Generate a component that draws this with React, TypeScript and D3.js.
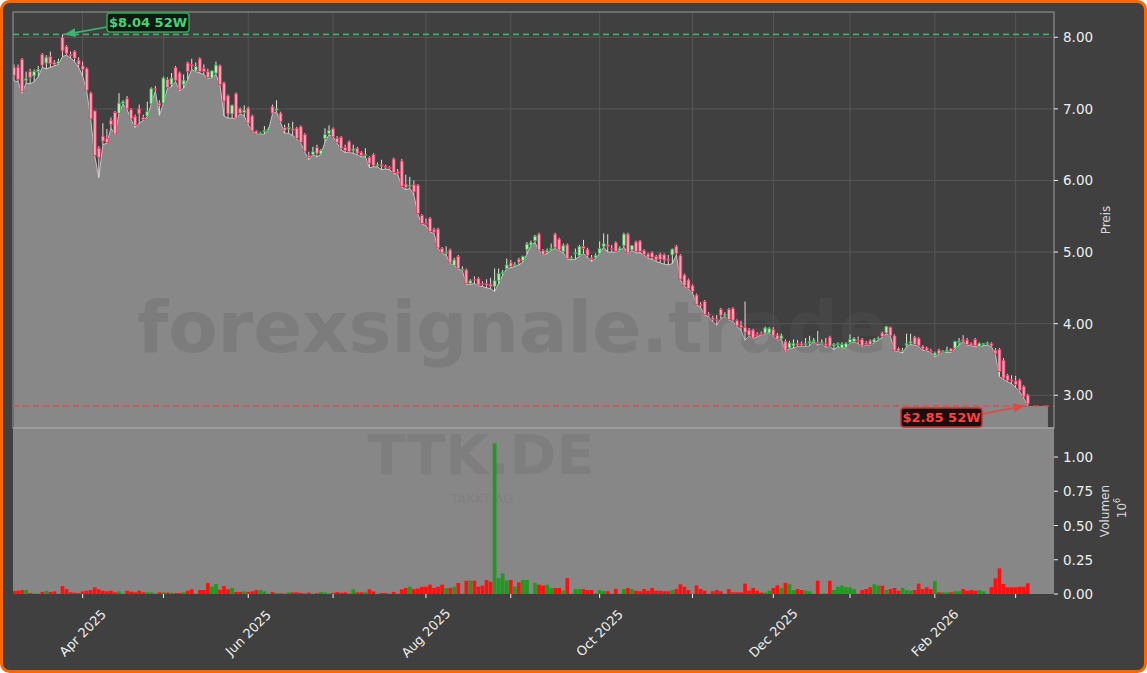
import React from 'react';
import * as d3 from 'd3';

// ---------- DATA ----------
const ticker = 'TTK.DE';
const companyName = 'TAKKT AG';
const watermark = 'forexsignale.trade';
const startDate = '2025-03-07';
const holidays = ['2025-04-18', '2025-04-21', '2025-05-01', '2025-12-24', '2025-12-25', '2025-12-26', '2025-12-31', '2026-01-01'];
const sessionCount = 252;

const open = [
  7.58, 7.58, 7.69, 7.40, 7.52, 7.46, 7.52, 7.76, 7.64, 7.73,
  7.65, 7.63, 8.00, 7.87, 7.76, 7.80, 7.68, 7.60, 7.56, 7.22,
  6.97, 6.45, 6.62, 6.59, 6.84, 6.95, 6.94, 7.08, 7.14, 6.99,
  6.89, 7.00, 6.88, 6.90, 7.07, 7.28, 7.08, 7.08, 7.41, 7.34,
  7.58, 7.50, 7.34, 7.64, 7.62, 7.53, 7.70, 7.56, 7.52, 7.43,
  7.50, 7.60, 7.36, 7.18, 6.93, 7.21, 7.00, 6.95, 7.01, 6.90,
  6.69, 6.66, 6.68, 6.70, 7.03, 6.98, 6.94, 6.74, 6.72, 6.72,
  6.73, 6.75, 6.64, 6.35, 6.36, 6.46, 6.37, 6.59, 6.66, 6.72,
  6.59, 6.60, 6.46, 6.54, 6.42, 6.45, 6.39, 6.35, 6.32, 6.36,
  6.21, 6.22, 6.20, 6.18, 6.30, 6.12, 6.27, 5.95, 5.92, 5.94,
  5.93, 5.51, 5.40, 5.47, 5.31, 5.32, 5.05, 5.00, 5.03, 4.81,
  4.94, 4.76, 4.75, 4.56, 4.62, 4.63, 4.56, 4.56, 4.55, 4.52,
  4.60, 4.70, 4.77, 4.85, 4.82, 4.90, 4.88, 5.04, 5.10, 5.16,
  5.25, 5.02, 5.00, 5.03, 5.25, 5.18, 5.01, 5.10, 4.91, 4.98,
  4.95, 5.08, 5.04, 4.92, 4.92, 4.98, 5.08, 5.10, 5.05, 5.13,
  5.02, 5.09, 5.25, 5.03, 5.14, 5.15, 5.02, 4.97, 4.99, 4.94,
  4.97, 4.96, 4.90, 4.96, 5.08, 4.95, 4.68, 4.61, 4.53, 4.40,
  4.27, 4.31, 4.13, 4.08, 4.06, 4.20, 4.12, 4.20, 4.21, 4.04,
  3.98, 3.95, 3.91, 3.91, 3.85, 3.86, 3.87, 3.87, 3.92, 3.84,
  3.79, 3.75, 3.66, 3.69, 3.72, 3.72, 3.71, 3.73, 3.75, 3.74,
  3.73, 3.72, 3.81, 3.69, 3.71, 3.66, 3.67, 3.74, 3.75, 3.77,
  3.78, 3.73, 3.76, 3.74, 3.79, 3.87, 3.87, 3.95, 3.83, 3.65,
  3.62, 3.70, 3.73, 3.81, 3.79, 3.68, 3.66, 3.62, 3.56, 3.63,
  3.60, 3.61, 3.65, 3.66, 3.74, 3.78, 3.77, 3.72, 3.78, 3.68,
  3.71, 3.72, 3.72, 3.63, 3.64, 3.49, 3.28, 3.22, 3.20, 3.21,
  3.12, 3.00,
];

const high = [
  7.62, 7.62, 7.71, 7.52, 7.56, 7.55, 7.60, 7.78, 7.75, 7.80,
  7.68, 7.70, 8.04, 7.89, 7.80, 7.82, 7.72, 7.66, 7.58, 7.24,
  6.98, 6.48, 6.80, 6.72, 6.88, 6.97, 7.22, 7.12, 7.18, 7.01,
  6.92, 7.06, 6.92, 7.10, 7.30, 7.32, 7.12, 7.45, 7.44, 7.50,
  7.60, 7.52, 7.48, 7.66, 7.70, 7.65, 7.72, 7.62, 7.56, 7.54,
  7.66, 7.62, 7.38, 7.20, 7.06, 7.23, 7.02, 7.05, 7.03, 6.92,
  6.70, 6.68, 6.76, 6.74, 7.06, 7.12, 6.96, 6.78, 6.80, 6.82,
  6.75, 6.77, 6.66, 6.40, 6.47, 6.50, 6.44, 6.73, 6.77, 6.74,
  6.62, 6.62, 6.50, 6.56, 6.50, 6.47, 6.41, 6.45, 6.34, 6.38,
  6.25, 6.29, 6.22, 6.20, 6.32, 6.16, 6.30, 6.08, 6.05, 6.00,
  5.95, 5.53, 5.47, 5.49, 5.34, 5.34, 5.07, 5.08, 5.05, 4.92,
  4.96, 4.80, 4.77, 4.62, 4.66, 4.65, 4.59, 4.62, 4.64, 4.77,
  4.77, 4.75, 4.91, 4.89, 4.86, 4.92, 4.95, 5.14, 5.16, 5.24,
  5.27, 5.04, 5.05, 5.12, 5.27, 5.20, 5.12, 5.12, 4.95, 5.05,
  5.10, 5.17, 5.06, 4.96, 4.98, 5.15, 5.26, 5.25, 5.10, 5.15,
  5.08, 5.27, 5.27, 5.10, 5.16, 5.17, 5.04, 4.99, 5.01, 4.96,
  4.99, 4.98, 4.96, 5.05, 5.10, 4.97, 4.70, 4.63, 4.55, 4.42,
  4.30, 4.33, 4.16, 4.11, 4.12, 4.22, 4.16, 4.22, 4.23, 4.06,
  4.04, 4.31, 3.94, 3.93, 3.88, 3.89, 3.96, 3.95, 3.95, 3.87,
  3.86, 3.78, 3.76, 3.78, 3.77, 3.75, 3.80, 3.83, 3.80, 3.90,
  3.78, 3.80, 3.83, 3.73, 3.74, 3.74, 3.74, 3.85, 3.81, 3.82,
  3.80, 3.76, 3.78, 3.80, 3.82, 3.89, 3.97, 3.96, 3.85, 3.67,
  3.66, 3.86, 3.86, 3.83, 3.81, 3.70, 3.68, 3.65, 3.61, 3.65,
  3.63, 3.68, 3.66, 3.76, 3.80, 3.84, 3.80, 3.74, 3.80, 3.74,
  3.73, 3.75, 3.74, 3.66, 3.66, 3.52, 3.30, 3.28, 3.27, 3.23,
  3.14, 3.02,
];

const low = [
  7.39, 7.38, 7.22, 7.36, 7.35, 7.38, 7.45, 7.58, 7.56, 7.58,
  7.60, 7.62, 7.73, 7.75, 7.71, 7.66, 7.58, 7.46, 7.25, 6.85,
  6.34, 6.04, 6.50, 6.52, 6.73, 6.64, 6.94, 7.07, 6.99, 6.85,
  6.74, 6.80, 6.84, 6.89, 7.07, 7.25, 6.91, 7.08, 7.29, 7.31,
  7.38, 7.25, 7.29, 7.41, 7.55, 7.52, 7.50, 7.48, 7.43, 7.43,
  7.48, 7.33, 6.90, 6.87, 6.87, 6.86, 6.93, 6.90, 6.78, 6.69,
  6.65, 6.64, 6.65, 6.70, 6.93, 6.96, 6.81, 6.66, 6.66, 6.63,
  6.58, 6.52, 6.40, 6.29, 6.36, 6.33, 6.36, 6.54, 6.64, 6.61,
  6.52, 6.43, 6.39, 6.39, 6.38, 6.36, 6.33, 6.33, 6.18, 6.19,
  6.19, 6.15, 6.16, 6.15, 6.10, 6.09, 5.91, 5.87, 5.89, 5.80,
  5.53, 5.39, 5.37, 5.28, 5.26, 5.05, 4.98, 4.96, 4.84, 4.81,
  4.76, 4.74, 4.55, 4.55, 4.56, 4.53, 4.52, 4.50, 4.49, 4.45,
  4.56, 4.68, 4.77, 4.78, 4.80, 4.82, 4.86, 4.97, 5.10, 5.13,
  5.02, 4.96, 4.98, 5.02, 5.05, 5.02, 4.99, 4.90, 4.89, 4.90,
  4.94, 4.98, 4.93, 4.87, 4.91, 4.98, 5.07, 5.00, 5.00, 5.00,
  5.02, 5.07, 4.98, 5.02, 4.99, 4.99, 4.96, 4.91, 4.90, 4.87,
  4.85, 4.83, 4.82, 4.84, 4.96, 4.61, 4.52, 4.48, 4.43, 4.26,
  4.23, 4.12, 4.10, 4.03, 3.98, 4.07, 4.10, 4.05, 4.03, 3.96,
  3.91, 3.77, 3.83, 3.79, 3.82, 3.84, 3.86, 3.86, 3.82, 3.77,
  3.78, 3.61, 3.65, 3.66, 3.68, 3.68, 3.68, 3.69, 3.75, 3.70,
  3.72, 3.67, 3.68, 3.64, 3.68, 3.66, 3.66, 3.73, 3.74, 3.72,
  3.68, 3.70, 3.70, 3.73, 3.77, 3.81, 3.86, 3.82, 3.62, 3.61,
  3.59, 3.68, 3.71, 3.70, 3.68, 3.63, 3.62, 3.60, 3.54, 3.57,
  3.60, 3.60, 3.60, 3.65, 3.70, 3.75, 3.70, 3.69, 3.68, 3.68,
  3.69, 3.70, 3.68, 3.57, 3.26, 3.22, 3.19, 3.16, 3.11, 3.05,
  2.96, 2.85,
];

const close = [
  7.47, 7.41, 7.24, 7.42, 7.44, 7.52, 7.55, 7.61, 7.72, 7.63,
  7.62, 7.66, 7.81, 7.77, 7.74, 7.71, 7.62, 7.55, 7.26, 6.86,
  6.35, 6.32, 6.55, 6.53, 6.78, 6.65, 7.08, 7.10, 7.00, 6.86,
  6.77, 6.93, 6.85, 6.96, 7.28, 7.27, 7.05, 7.43, 7.30, 7.43,
  7.40, 7.27, 7.40, 7.52, 7.60, 7.59, 7.52, 7.52, 7.44, 7.53,
  7.61, 7.34, 7.11, 6.93, 7.05, 6.87, 6.94, 6.98, 6.80, 6.69,
  6.65, 6.66, 6.70, 6.72, 6.94, 7.00, 6.82, 6.70, 6.74, 6.70,
  6.59, 6.53, 6.41, 6.32, 6.40, 6.38, 6.42, 6.64, 6.70, 6.61,
  6.53, 6.45, 6.42, 6.40, 6.44, 6.38, 6.35, 6.36, 6.24, 6.21,
  6.22, 6.20, 6.18, 6.17, 6.11, 6.10, 5.92, 5.90, 5.93, 5.84,
  5.54, 5.40, 5.39, 5.29, 5.28, 5.06, 4.99, 5.00, 4.85, 4.89,
  4.77, 4.76, 4.56, 4.60, 4.61, 4.54, 4.55, 4.54, 4.52, 4.60,
  4.70, 4.72, 4.82, 4.80, 4.83, 4.86, 4.94, 5.11, 5.13, 5.22,
  5.03, 4.97, 5.02, 5.05, 5.06, 5.03, 5.09, 4.91, 4.92, 4.99,
  5.08, 5.05, 4.95, 4.90, 4.95, 5.05, 5.12, 5.08, 5.04, 5.01,
  5.05, 5.25, 4.99, 5.09, 5.01, 5.01, 4.97, 4.93, 4.93, 4.89,
  4.90, 4.89, 4.88, 5.04, 4.98, 4.62, 4.53, 4.49, 4.45, 4.27,
  4.25, 4.13, 4.12, 4.06, 4.04, 4.12, 4.13, 4.06, 4.05, 3.97,
  3.95, 3.88, 3.84, 3.80, 3.83, 3.85, 3.94, 3.93, 3.83, 3.78,
  3.83, 3.62, 3.73, 3.72, 3.70, 3.70, 3.72, 3.75, 3.77, 3.73,
  3.74, 3.70, 3.69, 3.71, 3.72, 3.71, 3.72, 3.78, 3.79, 3.76,
  3.69, 3.71, 3.71, 3.78, 3.80, 3.82, 3.96, 3.83, 3.63, 3.62,
  3.63, 3.72, 3.75, 3.71, 3.69, 3.65, 3.63, 3.61, 3.59, 3.58,
  3.61, 3.63, 3.61, 3.75, 3.75, 3.76, 3.71, 3.70, 3.69, 3.72,
  3.72, 3.73, 3.69, 3.58, 3.33, 3.24, 3.21, 3.20, 3.15, 3.07,
  2.98, 2.88,
];

const volume = [
  22000, 24000, 29000, 29000, 7000, 5000, 2000, 15000, 22000, 15000,
  19000, 3000, 58000, 36000, 12000, 10000, 7000, 19000, 24000, 29000,
  49000, 34000, 24000, 19000, 24000, 12000, 19000, 2000, 24000, 17000,
  12000, 24000, 12000, 12000, 12000, 2000, 12000, 12000, 10000, 10000,
  7000, 7000, 12000, 24000, 34000, 2000, 29000, 29000, 80000, 53000,
  73000, 31000, 58000, 34000, 44000, 15000, 15000, 19000, 15000, 19000,
  29000, 29000, 19000, 2000, 15000, 7000, 5000, 2000, 12000, 12000,
  12000, 8000, 3000, 10000, 2000, 6000, 14000, 10000, 2000, 8000,
  14000, 9000, 12000, 3000, 34000, 12000, 12000, 12000, 34000, 19000,
  2000, 7000, 7000, 2000, 15000, 2000, 34000, 44000, 53000, 36000,
  40000, 53000, 53000, 68000, 44000, 53000, 68000, 44000, 44000, 53000,
  80000, 2000, 97000, 97000, 97000, 53000, 61000, 102000, 90000, 1100000,
  116000, 150000, 97000, 102000, 53000, 85000, 102000, 102000, 2000, 80000,
  68000, 61000, 68000, 44000, 44000, 44000, 24000, 116000, 2000, 36000,
  36000, 36000, 29000, 29000, 2000, 29000, 20000, 20000, 2000, 38000,
  2000, 36000, 44000, 36000, 24000, 20000, 36000, 24000, 44000, 24000,
  24000, 20000, 20000, 29000, 36000, 71000, 53000, 29000, 2000, 63000,
  36000, 24000, 2000, 20000, 29000, 20000, 2000, 36000, 12000, 12000,
  12000, 76000, 24000, 44000, 24000, 10000, 10000, 24000, 44000, 63000,
  44000, 81000, 71000, 29000, 36000, 29000, 24000, 20000, 2000, 97000,
  2000, 2000, 97000, 29000, 53000, 61000, 49000, 49000, 36000, 2000,
  29000, 36000, 49000, 71000, 61000, 61000, 29000, 36000, 44000, 24000,
  44000, 29000, 24000, 29000, 76000, 36000, 49000, 36000, 95000, 12000,
  12000, 12000, 12000, 20000, 20000, 36000, 24000, 29000, 24000, 29000,
  20000, 2000, 50000, 115000, 187000, 73000, 49000, 49000, 49000, 53000,
  53000, 78000,
];

const priceTicks = [3, 4, 5, 6, 7, 8];
const volumeTicks = [0, 0.25e6, 0.5e6, 0.75e6, 1e6];

// ---------- LAYOUT ----------
const W = 1147;
const H = 673;
const L = 13;
const R = 1054;
const PT = 12;
const PB = 428;
const VB = 594;
const FONT = 'DejaVu Sans, Verdana, sans-serif';
const areaExtension = 5;

function buildTradingDays(start: string, count: number, hol: string[]): Date[] {
  const parse = d3.timeParse('%Y-%m-%d');
  const fmt = d3.timeFormat('%Y-%m-%d');
  const hs = new Set(hol);
  const out: Date[] = [];
  let d = parse(start) as Date;
  while (out.length < count) {
    const wd = d.getDay();
    if (wd !== 0 && wd !== 6 && !hs.has(fmt(d))) out.push(d);
    d = d3.timeDay.offset(d, 1);
  }
  return out;
}

export default function App() {
  const dates = buildTradingDays(startDate, sessionCount, holidays);
  const n = dates.length;
  const idx = d3.range(n);

  const x = d3.scaleLinear().domain([-0.25, 257.5]).range([L, R]);
  const yP = d3.scaleLinear().domain([2.543, 8.353]).range([PB, PT]);
  const yV = d3.scaleLinear().domain([0, 1.212e6]).range([VB, PB]);
  const step = x(1) - x(0);

  const monthTicks: { i: number; label: string | null }[] = [];
  const mfmt = d3.timeFormat('%b %Y');
  for (let i = 1; i < n; i++) {
    if (dates[i].getMonth() !== dates[i - 1].getMonth()) {
      const m = dates[i].getMonth();
      monthTicks.push({ i, label: m % 2 === 1 ? mfmt(dates[i]) : null });
    }
  }

  const areaPts: [number, number][] = idx.map((i) => [i, low[i]]);
  areaPts.push([n - 1 + areaExtension, low[n - 1]]);
  const area = d3
    .area<[number, number]>()
    .x((d) => x(d[0]))
    .y0(PB)
    .y1((d) => yP(d[1]));
  const line = d3
    .line<[number, number]>()
    .x((d) => x(d[0]))
    .y((d) => yP(d[1]));

  const hiIdx = d3.maxIndex(high);
  const loIdx = d3.minIndex(low);
  const hiVal = high[hiIdx];
  const loVal = low[loIdx];

  const bodyW = step * 0.72;
  const volW = step * 0.92;

  const greenLine = '#3cb371';
  const redLine = '#e04848';

  return (
    <svg
      width={W}
      height={H}
      viewBox={`0 0 ${W} ${H}`}
      style={{ position: 'absolute', left: 0, top: 0, fontFamily: FONT }}
    >
      <defs>
        <clipPath id="priceClip">
          <rect x={L} y={PT} width={R - L} height={PB - PT} />
        </clipPath>
        <clipPath id="volClip">
          <rect x={L} y={PB} width={R - L} height={VB - PB} />
        </clipPath>
        <marker id="arrG" viewBox="0 0 10 10" refX="9" refY="5" markerWidth="7" markerHeight="7" orient="auto-start-reverse">
          <path d="M0,1 L10,5 L0,9 z" fill={greenLine} />
        </marker>
        <marker id="arrR" viewBox="0 0 10 10" refX="9" refY="5" markerWidth="7" markerHeight="7" orient="auto-start-reverse">
          <path d="M0,1 L10,5 L0,9 z" fill={redLine} />
        </marker>
      </defs>

      <rect x={1.5} y={1.5} width={W - 3} height={H - 3} rx={8} fill="#404040" stroke="#ff6600" strokeWidth={3} />

      {/* price grid */}
      <g stroke="#5c5c5c" strokeWidth={0.8}>
        {priceTicks.map((t) => (
          <line key={'hg' + t} x1={L} x2={R} y1={yP(t)} y2={yP(t)} />
        ))}
        {monthTicks.map((t) => (
          <line key={'vg' + t.i} x1={x(t.i)} x2={x(t.i)} y1={PT} y2={PB} />
        ))}
      </g>

      {/* price area */}
      <g clipPath="url(#priceClip)">
        <path d={area(areaPts) || ''} fill="#888888" />
        <path d={line(areaPts.slice(0, n)) || ''} fill="none" stroke="#c4c4c4" strokeWidth={1} />
      </g>

      {/* volume panel */}
      <rect x={L} y={PB} width={R - L} height={VB - PB} fill="#878787" />

      {/* watermarks */}
      <text x={137} y={352} fontSize={72} fontWeight="bold" fill="#575757" fillOpacity={0.25} fontFamily={FONT}>
        {watermark}
      </text>
      <text x={481} y={474} fontSize={56} fontWeight="bold" textAnchor="middle" fill="#575757" fillOpacity={0.18} fontFamily={FONT}>
        {ticker}
      </text>
      <text x={482} y={503} fontSize={13} textAnchor="middle" fill="#575757" fillOpacity={0.18} fontFamily={FONT}>
        {companyName}
      </text>

      {/* candles */}
      <g clipPath="url(#priceClip)">
        {idx.map((i) => {
          const o = open[i];
          const c = close[i];
          const up = c >= o;
          const hi = Math.max(high[i], o, c);
          const lo = Math.min(low[i], o, c);
          const top = yP(Math.max(o, c));
          const bot = yP(Math.min(o, c));
          const cx = x(i);
          return (
            <g key={'c' + i}>
              <line x1={cx} x2={cx} y1={yP(hi)} y2={yP(lo)} stroke={up ? '#d8ecd8' : '#f0d4da'} strokeWidth={1} />
              <rect
                x={cx - bodyW / 2}
                y={top}
                width={bodyW}
                height={Math.max(1, bot - top)}
                fill={up ? '#bfe6bf' : '#f4a7b9'}
                stroke={up ? '#2eaa4a' : '#e8305c'}
                strokeWidth={0.8}
              />
            </g>
          );
        })}
      </g>

      {/* volume bars */}
      <g clipPath="url(#volClip)">
        {idx.map((i) => (
          <rect
            key={'v' + i}
            x={x(i) - volW / 2}
            y={yV(volume[i])}
            width={volW}
            height={VB - yV(volume[i])}
            fill={close[i] >= open[i] ? '#1f991f' : '#ff1010'}
          />
        ))}
      </g>

      {/* 52W lines */}
      <line x1={L} x2={R} y1={yP(hiVal)} y2={yP(hiVal)} stroke={greenLine} strokeWidth={1.6} strokeDasharray="6,4" opacity={0.95} />
      <line x1={L} x2={R} y1={yP(loVal)} y2={yP(loVal)} stroke={redLine} strokeWidth={1.6} strokeDasharray="6,4" opacity={0.95} />

      {/* spines */}
      <rect x={L} y={PT} width={R - L} height={PB - PT} fill="none" stroke="#9a9a9a" strokeWidth={1} />
      <line x1={L} x2={R} y1={PB} y2={PB} stroke="#a0a0a0" strokeWidth={1.5} />

      {/* annotations */}
      <line x1={107} y1={27} x2={x(hiIdx) + 3} y2={yP(hiVal)} stroke={greenLine} strokeWidth={1.6} markerEnd="url(#arrG)" />
      <rect x={107} y={13} width={82} height={19} rx={3} fill="#0e1a12" stroke="#2fa853" strokeWidth={1.5} />
      <text x={148} y={22.5} fontSize={13} fontWeight="bold" fill="#45d47a" textAnchor="middle" dominantBaseline="central">
        {`$${hiVal.toFixed(2)} 52W`}
      </text>

      <line x1={982} y1={414} x2={x(loIdx) - 4} y2={yP(loVal)} stroke={redLine} strokeWidth={1.6} markerEnd="url(#arrR)" />
      <rect x={901} y={408} width={81} height={19} rx={3} fill="#1c0d0d" stroke="#c83232" strokeWidth={1.5} />
      <text x={941.5} y={417.5} fontSize={13} fontWeight="bold" fill="#ff4040" textAnchor="middle" dominantBaseline="central">
        {`$${loVal.toFixed(2)} 52W`}
      </text>

      {/* right price axis */}
      <g fill="#eeeeee" fontSize={13.5}>
        {priceTicks.map((t) => (
          <g key={'pt' + t}>
            <line x1={R} x2={R + 4} y1={yP(t)} y2={yP(t)} stroke="#eeeeee" strokeWidth={1} />
            <text x={R + 9} y={yP(t)} dominantBaseline="central">
              {t.toFixed(2)}
            </text>
          </g>
        ))}
        {volumeTicks.map((t) => (
          <g key={'vt' + t}>
            <line x1={R} x2={R + 4} y1={yV(t)} y2={yV(t)} stroke="#eeeeee" strokeWidth={1} />
            <text x={R + 9} y={yV(t)} dominantBaseline="central">
              {(t / 1e6).toFixed(2)}
            </text>
          </g>
        ))}
      </g>
      <text x={1106} y={(PT + PB) / 2} fontSize={12} fill="#d8d8d8" textAnchor="middle" dominantBaseline="central" transform={`rotate(-90, 1106, ${(PT + PB) / 2})`}>
        Preis
      </text>
      <text x={1105} y={(PB + VB) / 2} fontSize={12} fill="#d8d8d8" textAnchor="middle" dominantBaseline="central" transform={`rotate(-90, 1105, ${(PB + VB) / 2})`}>
        Volumen
      </text>
      <text x={1122} y={(PB + VB) / 2 - 3} fontSize={12} fill="#d8d8d8" textAnchor="middle" dominantBaseline="central" transform={`rotate(-90, 1122, ${(PB + VB) / 2 - 3})`}>
        10<tspan fontSize={8} dy={-5}>6</tspan>
      </text>

      {/* x axis */}
      <g>
        {monthTicks.map((t) => (
          <g key={'xt' + t.i}>
            <line x1={x(t.i)} x2={x(t.i)} y1={VB} y2={VB + 4} stroke="#eeeeee" strokeWidth={1} />
            {t.label && (
              <text
                x={x(t.i)}
                y={633}
                fontSize={13}
                fill="#eeeeee"
                textAnchor="middle"
                dominantBaseline="central"
                transform={`rotate(-45, ${x(t.i)}, 633)`}
              >
                {t.label}
              </text>
            )}
          </g>
        ))}
      </g>
    </svg>
  );
}
